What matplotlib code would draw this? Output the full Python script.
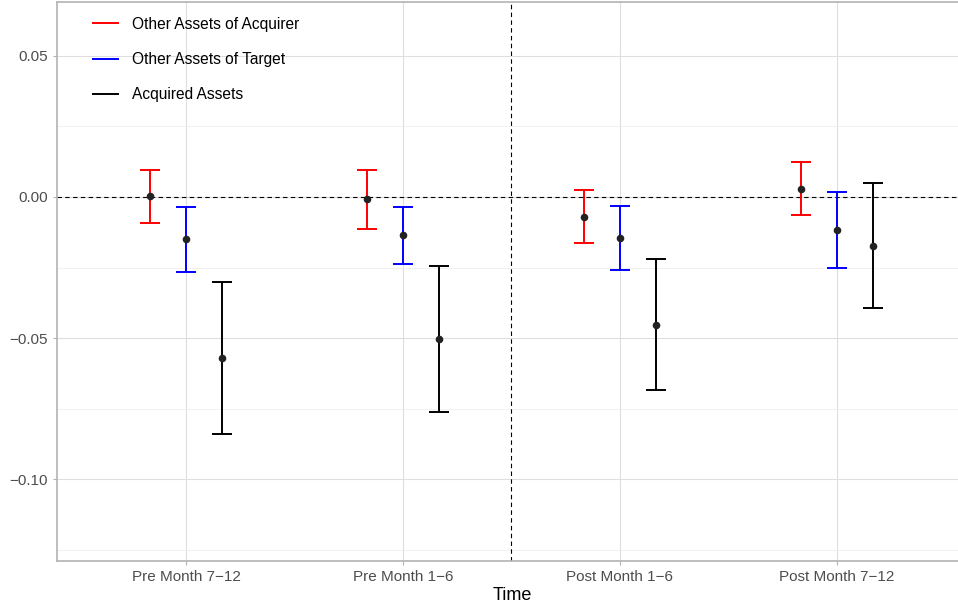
import numpy as np
import matplotlib.pyplot as plt

plt.rcParams['font.family'] = ['Liberation Sans', 'DejaVu Sans']

periods = ['Pre Month 7\u221212', 'Pre Month 1\u22126', 'Post Month 1\u22126', 'Post Month 7\u221212']
series = ['Other Assets of Acquirer', 'Other Assets of Target', 'Acquired Assets']
colors = ['#FF0000', '#0000FF', '#000000']

# point estimates and confidence bounds per series (rows follow periods)
acq_est = [0.0002, -0.0008, -0.0071, 0.0028]
acq_lo = [-0.0091, -0.0112, -0.0164, -0.0065]
acq_hi = [0.0095, 0.0095, 0.0024, 0.0123]

tgt_est = [-0.0150, -0.0136, -0.0144, -0.0117]
tgt_lo = [-0.0267, -0.0238, -0.0258, -0.0252]
tgt_hi = [-0.0034, -0.0034, -0.0031, 0.0019]

asset_est = [-0.0570, -0.0502, -0.0453, -0.0174]
asset_lo = [-0.0839, -0.0761, -0.0684, -0.0395]
asset_hi = [-0.0301, -0.0244, -0.0220, 0.0049]

est = [acq_est, tgt_est, asset_est]
lo = [acq_lo, tgt_lo, asset_lo]
hi = [acq_hi, tgt_hi, asset_hi]

fig = plt.figure(figsize=(9.58, 6.09), dpi=100)
ax = fig.add_axes([57/958, 1 - 561/609, 910/958, 559/609])

x = np.arange(1, len(periods) + 1)
dodge = 0.166
for k in range(len(series)):
    xs = x + (k - 1) * dodge
    e = np.array(est[k])
    yerr = np.vstack([e - np.array(lo[k]), np.array(hi[k]) - e])
    ax.errorbar(xs, e, yerr=yerr, fmt='none', ecolor=colors[k], elinewidth=1.4,
                capsize=7.5, capthick=1.4, zorder=3)
    ax.plot([], [], color=colors[k], lw=1.4, label=series[k])
    ax.scatter(xs, e, s=30, color='#222222', zorder=4, linewidths=0)

ax.axhline(0, color='black', lw=0.8, ls=(0, (4, 3)), zorder=2)
ax.axvline(2.5, color='black', lw=0.8, ls=(0, (4, 3)), zorder=2)

ax.set_xlim(0.405, 4.6)
ax.set_ylim(-0.129, 0.0691)
ax.set_xticks(x)
ax.set_xticklabels(periods)
ax.set_yticks([0.05, 0.0, -0.05, -0.10])
ax.set_yticklabels(['0.05', '0.00', '\u22120.05', '\u22120.10'])
ax.set_yticks([0.025, -0.025, -0.075, -0.125], minor=True)
ax.set_xticks([], minor=True)

ax.grid(True, which='major', color='#DEDEDE', lw=0.8, zorder=0)
ax.grid(True, which='minor', axis='y', color='#EBEBEB', lw=0.5, zorder=0)
ax.set_axisbelow(True)
for s in ax.spines.values():
    s.set_color('#B3B3B3')
    s.set_linewidth(1.2)
ax.tick_params(which='major', color='#B3B3B3', length=3, width=0.8,
               labelcolor='#4D4D4D', labelsize=11)
ax.tick_params(which='minor', length=0)

ax.set_xlabel('Time', fontsize=13, labelpad=2)

ax.legend(loc='upper left', frameon=False, fontsize=11.2, handlelength=1.6,
          labelspacing=1.29, borderaxespad=0.0, bbox_to_anchor=(0.0326, 0.9845),
          handletextpad=0.9)

fig.savefig('out.png', dpi=100)
